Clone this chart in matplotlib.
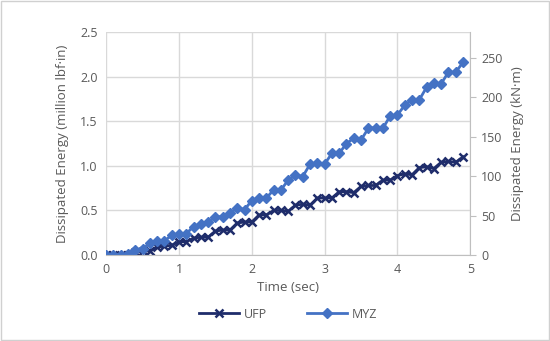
import numpy as np
import matplotlib.pyplot as plt
from matplotlib.patches import Rectangle

plt.rcParams['font.family'] = ['Open Sans', 'DejaVu Sans']

# time (sec)
time = [round(0.1 * i, 1) for i in range(50)]

# dissipated energy, million lbf·in
ufp = [0.00, 0.00, 0.00, 0.00, 0.03, 0.04, 0.05, 0.09, 0.10, 0.11,
       0.15, 0.15, 0.19, 0.20, 0.20, 0.27, 0.28, 0.28, 0.36, 0.37,
       0.37, 0.45, 0.45, 0.50, 0.50, 0.49, 0.56, 0.57, 0.56, 0.64,
       0.64, 0.64, 0.71, 0.71, 0.70, 0.77, 0.78, 0.78, 0.84, 0.84,
       0.89, 0.91, 0.90, 0.98, 0.99, 0.97, 1.04, 1.05, 1.04, 1.10]
myz = [0.00, 0.00, 0.00, 0.01, 0.06, 0.07, 0.13, 0.16, 0.16, 0.22,
       0.24, 0.24, 0.32, 0.35, 0.37, 0.43, 0.43, 0.47, 0.53, 0.51,
       0.61, 0.64, 0.64, 0.73, 0.73, 0.84, 0.90, 0.88, 1.02, 1.03,
       1.02, 1.14, 1.14, 1.25, 1.31, 1.29, 1.42, 1.43, 1.42, 1.56,
       1.57, 1.68, 1.74, 1.74, 1.88, 1.93, 1.92, 2.05, 2.05, 2.16]

kNm_per_Mlbfin = 112.985

txt = '#595959'
grid = '#d9d9d9'

fig = plt.figure(figsize=(5.5, 3.41), dpi=100)
ax = fig.add_axes([0.193, 0.252, 0.662, 0.654])

ax.plot(time, ufp, color='#1f2d6b', marker='x', markersize=6, markeredgewidth=1.8,
        linewidth=2, label='UFP')
ax.plot(time, myz, color='#4472c4', marker='D', markersize=5, linewidth=2,
        label='MYZ')

ax.set_xlim(0, 5)
ax.set_ylim(0, 2.5)
ax.set_xticks(range(6))
ax.set_yticks(np.arange(0, 2.51, 0.5))
ax.yaxis.set_major_formatter(plt.FormatStrFormatter('%.1f'))
ax.grid(True, color=grid, linewidth=1)
ax.set_axisbelow(True)
for s in ['top', 'left', 'right']:
    ax.spines[s].set_visible(False)
ax.spines['bottom'].set_color('#bfbfbf')
ax.tick_params(axis='both', colors=txt, labelsize=9, length=0, pad=6)
ax.set_xlabel('Time (sec)', color=txt, fontsize=9.5, labelpad=3)
ax.set_ylabel('Dissipated Energy (million lbf·in)', color=txt, fontsize=9.5, labelpad=8)

ax2 = ax.twinx()
ax2.set_ylim(0, 2.5 * kNm_per_Mlbfin)
ax2.set_yticks(range(0, 251, 50))
for s in ['top', 'left', 'bottom']:
    ax2.spines[s].set_visible(False)
ax2.spines['right'].set_color('#bfbfbf')
ax2.tick_params(axis='y', colors=txt, labelsize=9, length=4, pad=4)
ax2.tick_params(axis='y', color='#bfbfbf')
ax2.set_ylabel('Dissipated Energy (kN·m)', color=txt, fontsize=9.5, labelpad=6)

leg = ax.legend(loc='upper center', bbox_to_anchor=(0.5, -0.185), ncol=2,
                frameon=False, fontsize=9, handlelength=3.2, handletextpad=0.4,
                columnspacing=3.2)
for t in leg.get_texts():
    t.set_color(txt)

fig.patches.append(Rectangle((0.002, 0.003), 0.996, 0.994, transform=fig.transFigure,
                             fill=False, edgecolor='#d0d0d0', linewidth=1))

fig.savefig('out.png', dpi=100)
